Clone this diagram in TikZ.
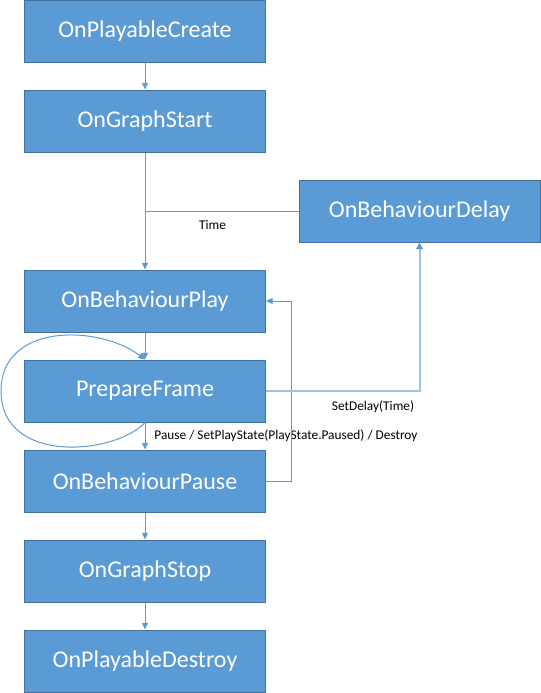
\documentclass[tikz,border=0pt]{standalone}
\usepackage{fontspec}
\setmainfont{Carlito}
\usepackage{xcolor}
\usepackage{tikz}
\usetikzlibrary{arrows.meta,positioning,calc}

\definecolor{boxblue}{HTML}{5B9BD5}
\definecolor{boxline}{HTML}{41719C}
\definecolor{lightblue}{HTML}{9DC3E6}

\begin{document}
\begin{tikzpicture}[
  node distance=20.25pt,
  box/.style={rectangle, draw=boxline, line width=0.75pt, fill=boxblue, minimum width=180.75pt, minimum height=46.5pt, inner sep=0pt, text=white, font=\fontsize{18}{20}\selectfont},
  arr/.style={draw=boxblue, line width=0.75pt, -{Triangle[length=5pt,width=4.5pt]}},
  lbl/.style={font=\fontsize{10}{12}\selectfont, text=black}
]
  \useasboundingbox (0,0) rectangle (405pt,-519.75pt);

  \node[box] (create) at (108.75pt,-23.25pt) {OnPlayableCreate};
  \node[box, below=of create] (gstart) {OnGraphStart};
  \node[box, below=87.75pt of gstart] (play) {OnBehaviourPlay};
  \node[box, below=of play] (prep) {PrepareFrame};
  \node[box, below=of prep] (pause) {OnBehaviourPause};
  \node[box, below=of pause] (gstop) {OnGraphStop};
  \node[box, below=of gstop] (destroy) {OnPlayableDestroy};
  \node[box, anchor=west] (delay) at ($(gstart.east)!0.5!(play.east)+(24.4pt,0)$) {OnBehaviourDelay};

  \coordinate (loopleft) at ($(prep.west)+(-17.25pt,0)$);

  \draw[arr] (create) -- (gstart);
  \draw[arr] (gstart) -- (play);
  \draw[draw=boxblue, line width=0.75pt] (delay.west) -- node[lbl, pos=0.56, below=3.2pt]{Time} (delay.west -| gstart);
  \draw[arr] (play) -- (prep);
  \draw[arr] (prep) -- node[lbl, right, xshift=3.4pt]{Pause / SetPlayState(PlayState.Paused) / Destroy} (pause);
  \draw[arr] (pause) -- (gstop);
  \draw[arr] (gstop) -- (destroy);
  \draw[arr] (pause.east) -- ++(18.75pt,0) |- (play.east);
  \draw[draw=lightblue, line width=1.5pt, -{Triangle[length=5pt,width=5pt,color=boxblue]}] (prep.east) -| node[lbl, pos=0.5, anchor=north east, yshift=-3pt]{SetDelay(Time)} (delay.south);
  \draw[arr] (prep.south) .. controls ($(prep)+(-22.5pt,-48pt)$) and ($(prep)+(-108pt,-55.5pt)$) .. (loopleft)
    .. controls ($(prep)+(-108pt,51.75pt)$) and ($(prep)+(-33.75pt,49.5pt)$) .. (prep.north);
\end{tikzpicture}
\end{document}
